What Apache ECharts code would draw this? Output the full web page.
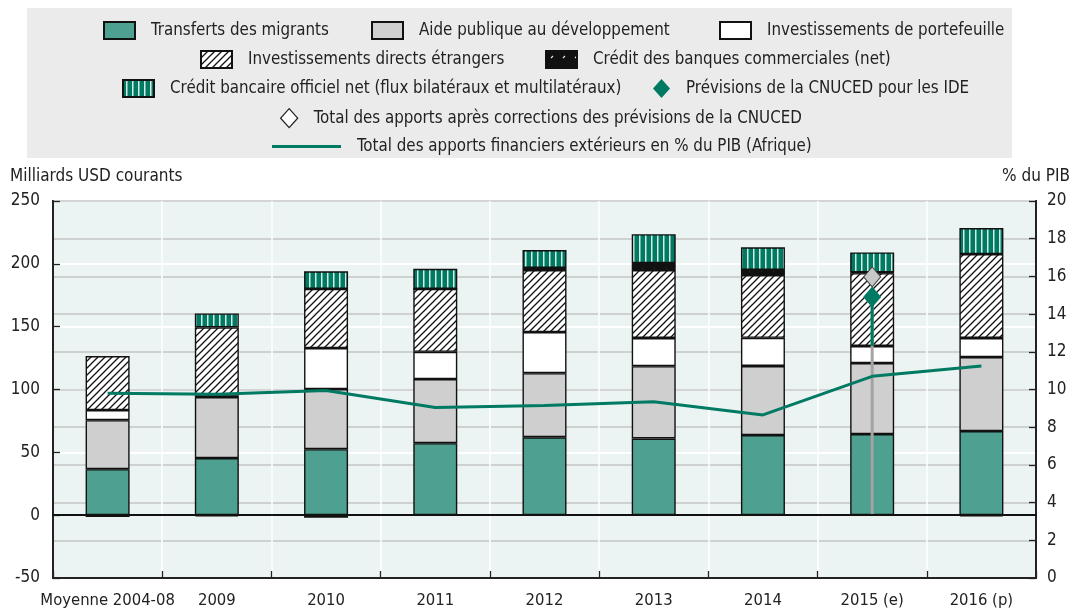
<!DOCTYPE html>
<html><head><meta charset="utf-8">
<script src="https://cdn.jsdelivr.net/npm/echarts@6/dist/echarts.min.js"></script>
<style>html,body{margin:0;padding:0;background:#fff}#c{width:1072px;height:610px}</style>
</head><body><div id="c"></div>
<script>
const categories = ['Moyenne 2004-08','2009','2010','2011','2012','2013','2014','2015 (e)','2016 (p)'];
const migrants   = [36.6, 45.4, 52.5, 57.3, 62, 61, 63.7, 64.5, 66.9];
const oda        = [39, 48.6, 47.8, 51, 51, 57.6, 55, 56.5, 58.9];
const portfolio  = [8, 1.5, 32.7, 21.7, 32.7, 22.4, 22.4, 13.6, 15.2];
const fdi        = [43, 54, 47, 50, 49.3, 54, 50, 58, 66.8];
const commercial = [-1, -1, -2, 0, 1.7, 5.6, 4, 0.5, -1];
const official   = [0, 11, 14, 16, 14.3, 23, 18, 16, 20.7];
const pctGDP     = [9.8, 9.75, 9.95, 9.05, 9.15, 9.35, 8.65, 10.7, 11.25];
const forecastCategory = '2015 (e)';
const forecastBase = 134.6;      // top of portfolio investment, 2015
const forecastFDI = 173.6;       // UNCTAD FDI forecast level
const correctedTotal = 189.6;    // total after UNCTAD correction
const leftTicks = {min: -50, max: 250, interval: 50};
const rightTicks = {min: 0, max: 20, interval: 2};

const names = {
  mig: 'Transferts des migrants',
  oda: 'Aide publique au développement',
  port: 'Investissements de portefeuille',
  fdi: 'Investissements directs étrangers',
  comm: 'Crédit des banques commerciales (net)',
  off: 'Crédit bancaire officiel net (flux bilatéraux et multilatéraux)',
  fc: 'Prévisions de la CNUCED pour les IDE',
  tot: 'Total des apports après corrections des prévisions de la CNUCED',
  pct: 'Total des apports financiers extérieurs en % du PIB (Afrique)'
};

function pattern(kind){
  const c = document.createElement('canvas');
  if (kind === 'fdi'){
    const s = 7; c.width = s; c.height = s;
    const g = c.getContext('2d');
    g.fillStyle = '#fff'; g.fillRect(0,0,s,s);
    g.strokeStyle = '#111'; g.lineWidth = 1.3;
    g.beginPath();
    g.moveTo(-1, s+1); g.lineTo(s+1, -1);
    g.moveTo(-1, 1); g.lineTo(1, -1);
    g.moveTo(s-1, s+1); g.lineTo(s+1, s-1);
    g.stroke();
  } else if (kind === 'comm'){
    const s = 12; c.width = s; c.height = s;
    const g = c.getContext('2d');
    g.fillStyle = '#111'; g.fillRect(0,0,s,s);
    g.strokeStyle = '#eee'; g.lineWidth = 1.1;
    g.beginPath(); g.moveTo(5, 7); g.lineTo(7, 5); g.stroke();
  } else {
    const s = 6; c.width = s; c.height = s;
    const g = c.getContext('2d');
    g.fillStyle = '#007a62'; g.fillRect(0,0,s,s);
    g.fillStyle = '#d5ebe5'; g.fillRect(3,0,1.5,s);
  }
  return {image: c, repeat: 'repeat'};
}

const FONT = '"Liberation Sans Narrow","Arial Narrow","DejaVu Sans Condensed",sans-serif';
const txt = {color:'#222', fontSize:16.5, fontFamily:FONT};

function barSeries(name, data, color){
  return {name, type:'bar', stack:'total', data, barWidth:44,
    itemStyle:{color, borderColor:'#111', borderWidth:1.4}, z:2};
}

function leg(name, left, top, extra){
  return Object.assign({
    left, top, padding:0, itemWidth:31, itemHeight:17, icon:'rect', selectedMode:false,
    textStyle:Object.assign({}, txt, {fontSize:16.8, padding:[0,0,0,11]}),
    data:[name]
  }, extra || {});
}

const chart = echarts.init(document.getElementById('c'), null, {renderer:'canvas'});
chart.setOption({
  animation:false,
  backgroundColor:'#fff',
  graphic:[
    {type:'rect', shape:{x:27,y:8,width:985,height:150}, style:{fill:'#ebebeb'}, z:-10},
    {type:'text', left:10, top:168, style:{text:'Milliards USD courants', fill:'#222', font:'17px '+FONT}},
    {type:'text', right:2, top:168, style:{text:'% du PIB', fill:'#222', font:'17px '+FONT}}
  ],
  legend:[
    leg(names.mig, 103, 21),
    leg(names.oda, 371, 21),
    leg(names.port, 719, 21),
    leg(names.fdi, 200, 50),
    leg(names.comm, 545, 50),
    leg(names.off, 122, 79),
    leg(names.fc, 653, 79, {itemWidth:17, itemHeight:19, icon:'diamond'}),
    leg(names.tot, 280, 108, {itemWidth:17, itemHeight:19, icon:'diamond',
      data:[{name:names.tot, itemStyle:{color:'#fff', borderColor:'#222', borderWidth:1.3}}]}),
    leg(names.pct, 272, 138, {itemWidth:69, itemHeight:3})
  ],
  grid:{left:53, right:36, top:201, bottom:32, show:true, backgroundColor:'#ebf4f2', borderColor:'#222', borderWidth:2, z:0},
  xAxis:[
    {type:'category', data:categories, position:'bottom',
      axisLine:{onZero:false, lineStyle:{color:'#222', width:2}},
      axisTick:{show:true, inside:true, length:7, lineStyle:{color:'#222', width:1.3}},
      axisLabel:Object.assign({margin:14, interval:0}, txt),
      splitLine:{show:true, lineStyle:{color:'#ffffff', width:1.5}}},
    {type:'category', data:categories, position:'bottom', show:true,
      axisLine:{onZero:true, onZeroAxisIndex:0, lineStyle:{color:'#111', width:2}},
      axisTick:{show:false}, axisLabel:{show:false}, splitLine:{show:false}, z:5}
  ],
  yAxis:[
    {type:'value', min:leftTicks.min, max:leftTicks.max, interval:leftTicks.interval, position:'left',
      axisLine:{show:true, lineStyle:{color:'#222', width:2}},
      axisTick:{show:true, inside:true, length:7, lineStyle:{color:'#222', width:1.3}},
      axisLabel:Object.assign({margin:13}, txt, {fontSize:17}),
      splitLine:{show:true, lineStyle:{color:'#ffffff', width:2}}},
    {type:'value', min:rightTicks.min, max:rightTicks.max, interval:rightTicks.interval, position:'right',
      axisLine:{show:true, lineStyle:{color:'#222', width:2}},
      axisTick:{show:true, inside:true, length:7, lineStyle:{color:'#222', width:1.3}},
      axisLabel:Object.assign({margin:11}, txt, {fontSize:17}),
      splitLine:{show:true, lineStyle:{color:'#c6c6c6', width:1.5}}}
  ],
  series:[
    barSeries(names.mig, migrants, '#4ea191'),
    barSeries(names.oda, oda, '#cfcfcf'),
    barSeries(names.port, portfolio, '#ffffff'),
    barSeries(names.fdi, fdi, pattern('fdi')),
    barSeries(names.comm, commercial, pattern('comm')),
    barSeries(names.off, official, pattern('off')),
    {name:'forecastStem', type:'line', data:[[forecastCategory, 0],[forecastCategory, forecastFDI]],
      symbol:'none', lineStyle:{color:'#a3a3a3', width:3}, z:4, silent:true},
    {name:'forecastRise', type:'line', data:[[forecastCategory, forecastBase],[forecastCategory, forecastFDI]],
      symbol:'none', lineStyle:{color:'#007a62', width:3}, z:5, silent:true},
    {name:names.fc, type:'scatter', data:[[forecastCategory, forecastFDI]], symbol:'diamond', symbolSize:[18,21],
      itemStyle:{color:'#007a62', opacity:1}, z:6},
    {name:names.tot, type:'scatter', data:[[forecastCategory, correctedTotal]], symbol:'diamond', symbolSize:[17,20],
      itemStyle:{color:'#c8c8c8', borderColor:'#444', borderWidth:1, opacity:1}, z:6},
    {name:names.pct, type:'line', yAxisIndex:1, data:pctGDP, symbol:'none',
      lineStyle:{color:'#007a62', width:3}, itemStyle:{color:'#007a62'}, z:7}
  ]
});
</script></body></html>
